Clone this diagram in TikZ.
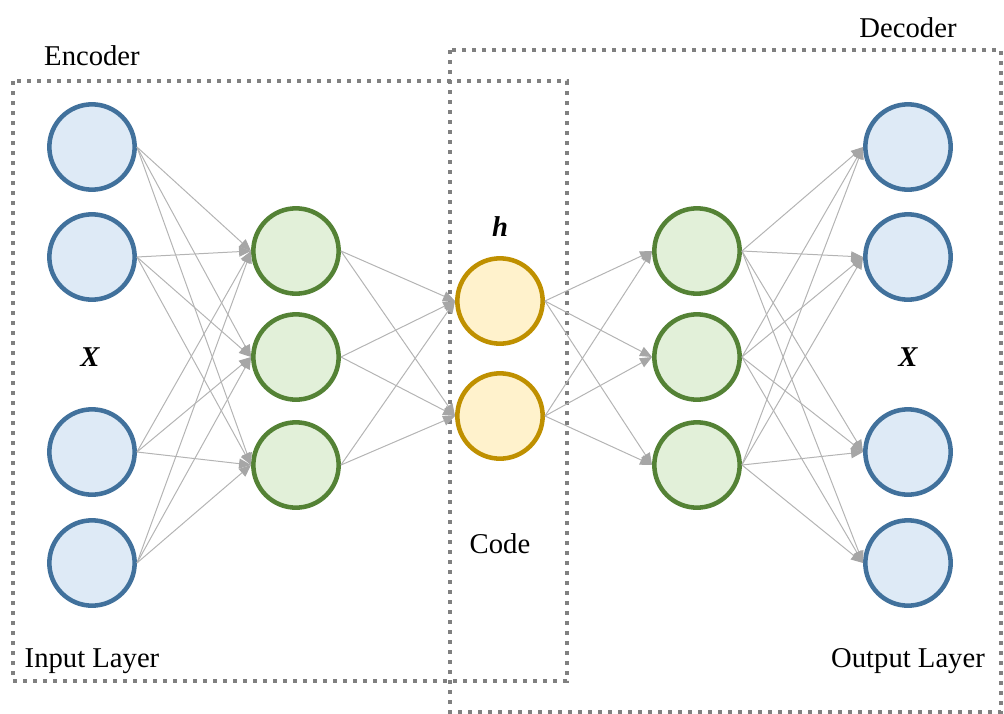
\documentclass[tikz,border=0pt]{standalone}
\usepackage{fontspec}
\setmainfont{Liberation Serif}
\usetikzlibrary{arrows.meta}
\definecolor{inStroke}{HTML}{41719C}
\definecolor{inFill}{HTML}{DEEAF6}
\definecolor{hidStroke}{HTML}{548235}
\definecolor{hidFill}{HTML}{E2F0D9}
\definecolor{codeStroke}{HTML}{BF9000}
\definecolor{codeFill}{HTML}{FFF2CC}
\definecolor{boxGray}{HTML}{808080}
\definecolor{edgeGray}{HTML}{B4B4B4}
\definecolor{tipGray}{HTML}{A6A6A6}
\tikzset{
  neuron/.style={circle, line width=3.4pt, minimum size=64pt, inner sep=0pt},
  inneuron/.style={neuron, draw=inStroke, fill=inFill},
  hidneuron/.style={neuron, draw=hidStroke, fill=hidFill},
  codeneuron/.style={neuron, draw=codeStroke, fill=codeFill},
  groupbox/.style={draw=boxGray, line width=3pt, dash pattern=on 3pt off 4.5pt},
  conn/.style={draw=edgeGray, line width=0.75pt, -{Triangle[length=9pt,width=7.5pt,color=tipGray,fill=tipGray]}},
  lbl/.style={font=\fontsize{21.5}{26}\selectfont, anchor=base, inner sep=0pt},
  vlbl/.style={font=\fontsize{21.5}{26}\selectfont\bfseries\itshape, anchor=base, inner sep=0pt}
}
\begin{document}
\begin{tikzpicture}[x=0.75pt, y=-0.75pt]
\useasboundingbox (0,0) rectangle (1004,714);
% boxes
\draw[groupbox] (13,81) rectangle (567,681);
\draw[groupbox] (450,50) rectangle (1001,712);
% input layer
\node[inneuron] (i1) at (92,147) {};
\node[inneuron] (i2) at (92,257) {};
\node[inneuron] (i3) at (92,452) {};
\node[inneuron] (i4) at (92,563) {};
% encoder hidden
\node[hidneuron] (e1) at (296,251) {};
\node[hidneuron] (e2) at (296,357) {};
\node[hidneuron] (e3) at (296,465) {};
% code
\node[codeneuron] (c1) at (500,301) {};
\node[codeneuron] (c2) at (500,416) {};
% decoder hidden
\node[hidneuron] (d1) at (697,251) {};
\node[hidneuron] (d2) at (697,357) {};
\node[hidneuron] (d3) at (697,465) {};
% output
\node[inneuron] (o1) at (908,147) {};
\node[inneuron] (o2) at (908,257) {};
\node[inneuron] (o3) at (908,452) {};
\node[inneuron] (o4) at (908,563) {};
% connections
\foreach \a in {i1,i2,i3,i4}{\foreach \b in {e1,e2,e3}{\draw[conn] (\a.east) -- (\b.west);}}
\foreach \a in {e1,e2,e3}{\foreach \b in {c1,c2}{\draw[conn] (\a.east) -- (\b.west);}}
\foreach \a in {c1,c2}{\foreach \b in {d1,d2,d3}{\draw[conn] (\a.east) -- (\b.west);}}
\foreach \a in {d1,d2,d3}{\foreach \b in {o1,o2,o3,o4}{\draw[conn] (\a.east) -- (\b.west);}}
% labels
\node[lbl] (enc) at (92,65) {Encoder};
\node[lbl] (dec) at (908,37) {Decoder};
\node[lbl] (inl) at (92,667) {Input Layer};
\node[lbl] (outl) at (908,667) {Output Layer};
\node[lbl] (code) at (500,553) {Code};
\node[vlbl] (h) at (500,236) {h};
\node[vlbl] (xin) at (90,366) {X};
\node[vlbl] (xout) at (908,366) {X};
\end{tikzpicture}
\end{document}
